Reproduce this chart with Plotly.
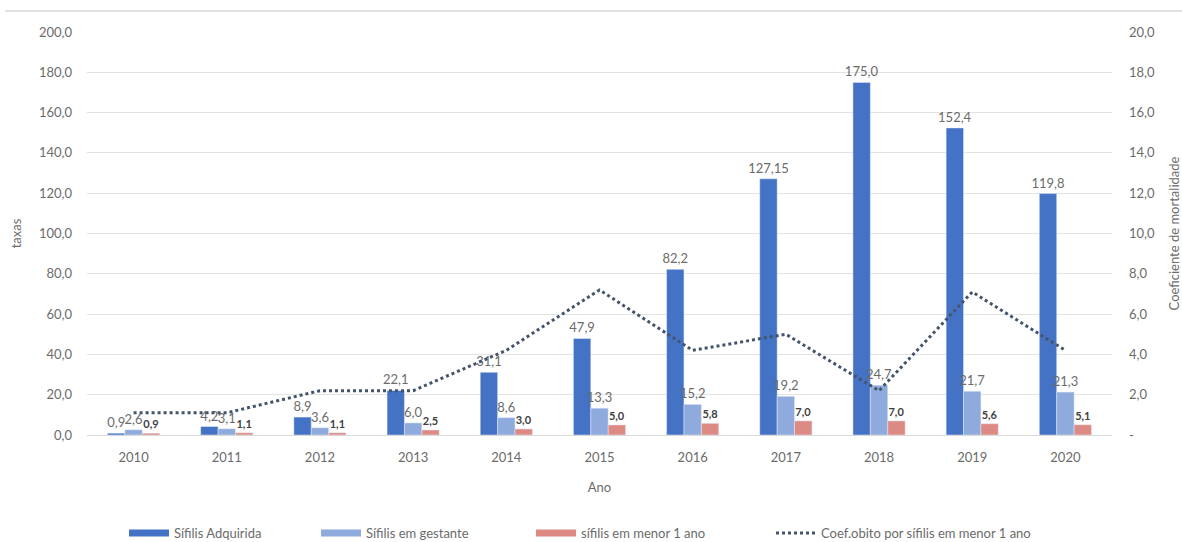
import plotly.graph_objects as go

anos = ["2010", "2011", "2012", "2013", "2014", "2015", "2016", "2017", "2018", "2019", "2020"]
sifilis_adquirida = [0.9, 4.2, 8.9, 22.1, 31.1, 47.9, 82.2, 127.15, 175.0, 152.4, 119.8]
sifilis_gestante = [2.6, 3.1, 3.6, 6.0, 8.6, 13.3, 15.2, 19.2, 24.7, 21.7, 21.3]
sifilis_menor_1 = [0.9, 1.1, 1.1, 2.5, 3.0, 5.0, 5.8, 7.0, 7.0, 5.6, 5.1]
coef_obito = [1.1, 1.1, 2.2, 2.2, 4.2, 7.2, 4.2, 5.0, 2.2, 7.1, 4.2]

left_ticks = [0, 20, 40, 60, 80, 100, 120, 140, 160, 180, 200]
right_ticks = [0, 2, 4, 6, 8, 10, 12, 14, 16, 18, 20]
right_tick_text = ["-", "2,0", "4,0", "6,0", "8,0", "10,0", "12,0", "14,0", "16,0", "18,0", "20,0"]

nomes = ["Sífilis Adquirida", "Sífilis em gestante", "sífilis em menor 1 ano",
         "Coef.obito por sífilis em menor 1 ano"]
cores = ["#4472C4", "#8FAADC", "#DE8A84", "#44546A"]


def rotulo(v):
    s = f"{v:.1f}" if round(v, 1) == v else f"{v:.2f}"
    return s.replace(".", ",")


FONT = "Lato, 'Open Sans', sans-serif"
GRAY = "#6B6B6B"

fig = go.Figure()

series = [sifilis_adquirida, sifilis_gestante, sifilis_menor_1]
for i, vals in enumerate(series):
    if i < 2:
        txt = [rotulo(v) for v in vals]
        tf = dict(size=13, color=GRAY, family=FONT)
    else:
        txt = [f"<b>{rotulo(v)}</b>" for v in vals]
        tf = dict(size=11, color="#404040", family=FONT)
    fig.add_trace(go.Bar(
        x=anos, y=vals, name=nomes[i], marker_color=cores[i],
        text=txt, textposition="outside", constraintext="none",
        textfont=tf, cliponaxis=False, showlegend=False,
    ))

fig.add_trace(go.Scatter(
    x=anos, y=coef_obito, name=nomes[3],
    mode="lines", line=dict(color=cores[3], width=3, dash="dot"),
    yaxis="y2", showlegend=False,
))

# legend entries: wide flat swatches for the bar series, dotted sample for the line
legend_ids = ["legend", "legend2", "legend3", "legend4"]
for i in range(4):
    line = dict(color=cores[i], width=7) if i < 3 else dict(color=cores[i], width=3, dash="dot")
    fig.add_trace(go.Scatter(
        x=[None], y=[None], name=nomes[i], mode="lines", line=line,
        legend=legend_ids[i], showlegend=True, hoverinfo="skip",
    ))

legend_x = [124, 316, 531, 771]
legend_common = dict(orientation="h", xanchor="left", xref="container",
                     y=9 / 542, yanchor="middle", yref="container",
                     font=dict(size=13, color=GRAY), itemwidth=40,
                     bgcolor="rgba(0,0,0,0)")

fig.update_layout(
    width=1182, height=542,
    margin=dict(l=87, r=70, t=32, b=107),
    paper_bgcolor="white", plot_bgcolor="white",
    separators=",.",
    font=dict(family=FONT, size=13, color=GRAY),
    barmode="group", bargap=0.44, bargroupgap=0,
    showlegend=True,
    legend=dict(x=legend_x[0] / 1182, **legend_common),
    legend2=dict(x=legend_x[1] / 1182, **legend_common),
    legend3=dict(x=legend_x[2] / 1182, **legend_common),
    legend4=dict(x=legend_x[3] / 1182, **legend_common),
    xaxis=dict(
        showgrid=False, showline=True, linecolor="#D9D9D9", linewidth=1,
        ticks="", tickfont=dict(size=13, color=GRAY), ticklabelstandoff=10,
        title=dict(text="Ano", font=dict(size=13, color=GRAY), standoff=19),
        automargin=False,
    ),
    yaxis=dict(
        range=[0, 200], tickvals=left_ticks, tickformat=".1f",
        showgrid=True, gridcolor="#E3E3E3", gridwidth=1, zeroline=False,
        tickfont=dict(size=13, color=GRAY), ticklabelstandoff=14,
        title=dict(text="taxas", font=dict(size=13, color=GRAY), standoff=14),
        automargin=False,
    ),
    yaxis2=dict(
        range=[0, 20], overlaying="y", side="right",
        tickvals=right_ticks, ticktext=right_tick_text,
        showgrid=False, zeroline=False,
        tickfont=dict(size=13, color=GRAY), ticklabelstandoff=16,
        title=dict(text="Coeficiente de mortalidade", font=dict(size=13, color=GRAY), standoff=31),
        automargin=False,
    ),
    shapes=[dict(type="line", xref="paper", yref="paper", x0=-0.08, x1=1.08,
                 y0=1.052, y1=1.052, line=dict(color="#D9D9D9", width=1.5))],
)

fig.write_html("out.html")
